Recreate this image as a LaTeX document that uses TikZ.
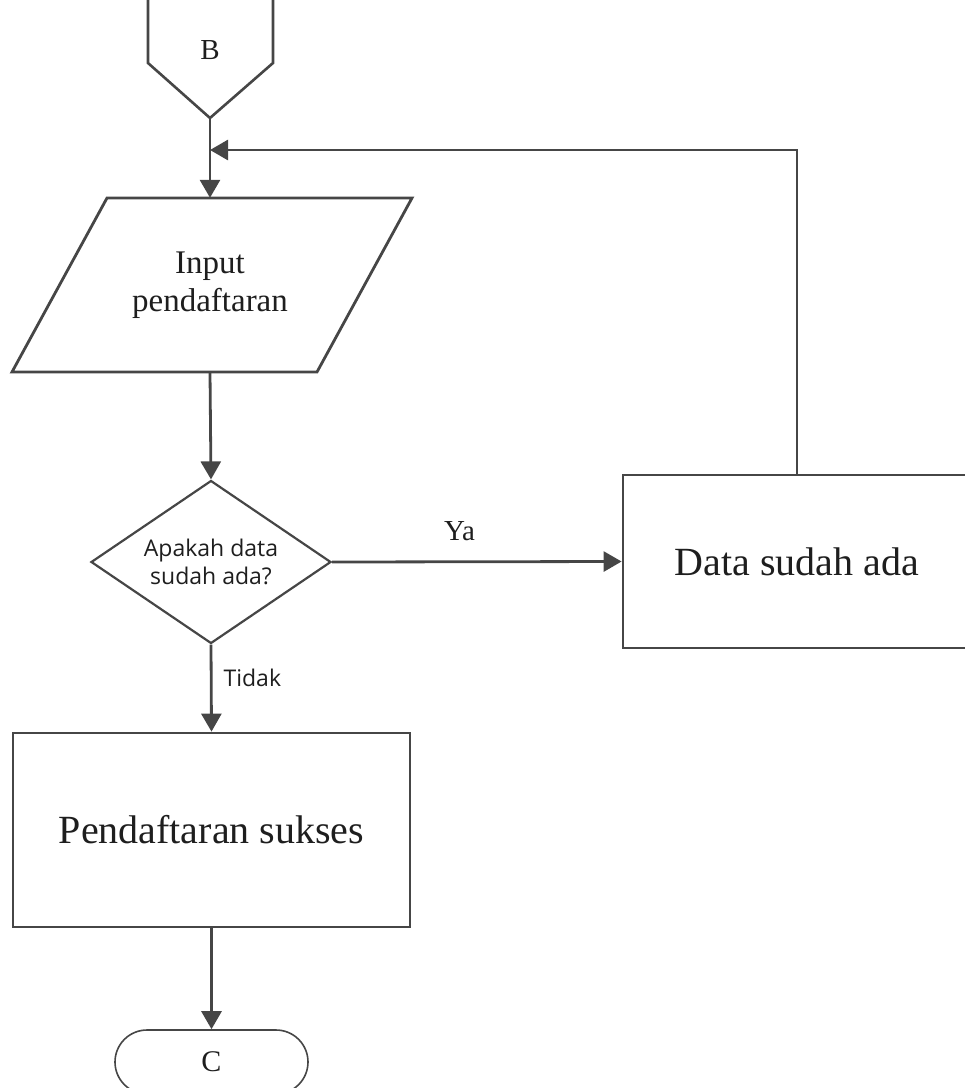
\documentclass[tikz,border=0pt]{standalone}
\usepackage{fontspec}
\setmainfont{Liberation Serif}
\newfontfamily\labelsans{Open Sans}
\usetikzlibrary{shapes.geometric,arrows.meta}

\definecolor{edgegray}{HTML}{464646}
\definecolor{inkgray}{HTML}{1E1E1E}

\tikzset{
  flowline/.style={draw=edgegray, line width=2.8pt},
  flowarrow/.style={flowline, -{Triangle[length=18pt,width=20pt]}},
  procbox/.style={draw=edgegray, line width=2.8pt, rectangle, inner sep=0pt,
                  text=inkgray, font=\fontsize{40}{44}\selectfont},
  decision/.style={draw=edgegray, line width=2.2pt, diamond, aspect=1.47,
                   inner sep=0pt, text=inkgray, align=center,
                   font=\labelsans\fontsize{23}{28}\selectfont},
  terminal/.style={draw=edgegray, line width=1.6pt, rectangle, rounded corners=32pt,
                   inner sep=0pt, text=inkgray, font=\fontsize{30}{34}\selectfont},
  edgelabel/.style={text=inkgray, inner sep=0pt},
}

\begin{document}
\begin{tikzpicture}[x=1pt,y=-1pt]
  \useasboundingbox (0,0) rectangle (965,1088);

  % off-page connector B
  \draw[draw=edgegray, line width=2.6pt]
    (148,-10) -- (148,63) -- (210,118) -- (273,63) -- (273,-10);
  \node[text=inkgray, font=\fontsize{29}{32}\selectfont] (B) at (210,50) {B};
  \coordinate (Btip) at (210,118);

  % input parallelogram
  \draw[draw=edgegray, line width=2.8pt]
    (107,198) -- (412,198) -- (317,372) -- (12,372) -- cycle;
  \node[minimum width=400pt, minimum height=174pt, inner sep=0pt,
        text=inkgray, align=center, font=\fontsize{33}{38}\selectfont]
    (inp) at (210,285) {Input\\pendaftaran};

  % decision
  \node[decision, minimum width=240pt, minimum height=163pt]
    (dec) at (211,562) {Apakah data\\sudah ada?};

  % process boxes
  \node[procbox, minimum width=397pt, minimum height=194pt]
    (ok) at (211.5,830) {Pendaftaran sukses};
  \node[procbox, minimum width=348pt, minimum height=173pt]
    (dup) at (797,561.5) {Data sudah ada};

  % terminator C
  \node[terminal, minimum width=193pt, minimum height=64pt]
    (C) at (211.5,1062) {C};

  % connectors
  \coordinate (join) at (210,150);
  \draw[flowline] (Btip) -- (join);
  \draw[flowarrow] (join) -- (Btip |- inp.north);
  \draw[flowarrow] (dup.north) |- (join);
  \draw[flowarrow] (Btip |- inp.south) -- (dec.north);
  \draw[flowarrow] (dec.east) -- (dup.west)
    node[edgelabel, pos=0.44, above=20pt, font=\fontsize{29}{32}\selectfont] {Ya};
  \draw[flowarrow] (dec.south) -- (ok.north)
    node[edgelabel, pos=0.38, right=11pt, font=\labelsans\fontsize{23}{26}\selectfont] {Tidak};
  \draw[flowarrow] (ok.south) -- (C.north);
\end{tikzpicture}
\end{document}
